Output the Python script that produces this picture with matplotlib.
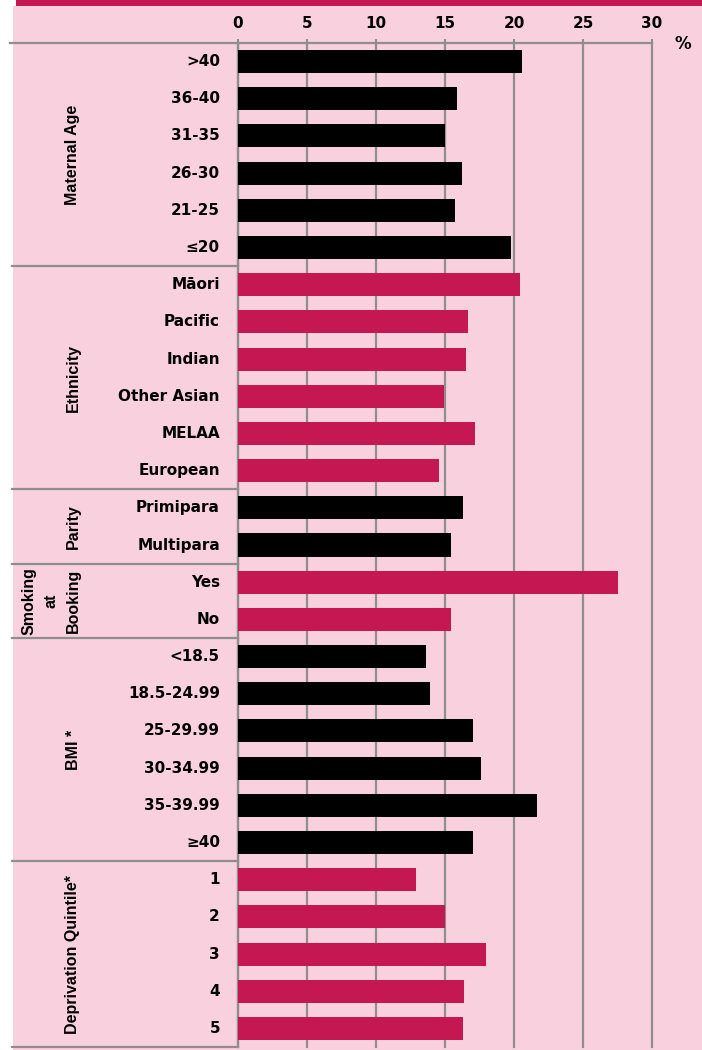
import numpy as np
import matplotlib
matplotlib.use('Agg')
import matplotlib.pyplot as plt
import matplotlib.transforms as mtransforms
from matplotlib.lines import Line2D
from matplotlib.patches import Rectangle

# data (% by subgroup)
groups = ['Maternal Age', 'Ethnicity', 'Parity', 'Smoking\nat\nBooking',
          'BMI *', 'Deprivation Quintile*']
group_colors = ['black', 'pink', 'black', 'pink', 'black', 'pink']
maternal_age = ['>40', '36-40', '31-35', '26-30', '21-25', '≤20']
maternal_age_vals = [20.6, 15.9, 15.0, 16.2, 15.7, 19.8]
ethnicity = ['Māori', 'Pacific', 'Indian', 'Other Asian', 'MELAA', 'European']
ethnicity_vals = [20.4, 16.7, 16.5, 14.9, 17.2, 14.6]
parity = ['Primipara', 'Multipara']
parity_vals = [16.3, 15.4]
smoking = ['Yes', 'No']
smoking_vals = [27.5, 15.4]
bmi = ['<18.5', '18.5-24.99', '25-29.99', '30-34.99', '35-39.99', '≥40']
bmi_vals = [13.6, 13.9, 17.0, 17.6, 21.7, 17.0]
deprivation = ['1', '2', '3', '4', '5']
deprivation_vals = [12.9, 15.0, 18.0, 16.4, 16.3]
xticks = [0, 5, 10, 15, 20, 25, 30]

cats = [maternal_age, ethnicity, parity, smoking, bmi, deprivation]
vals = [maternal_age_vals, ethnicity_vals, parity_vals, smoking_vals,
        bmi_vals, deprivation_vals]

BG = '#f9d1de'
PINK = '#c51852'
GRID = '#8e8e8e'
W, H = 702, 1050

fig = plt.figure(figsize=(W / 100, H / 100), dpi=100)
fig.patch.set_facecolor('white')
# pink panel and top banner
fig.patches.append(Rectangle((13 / W, 0), 1, 1 - 6 / H, transform=fig.transFigure,
                             facecolor=BG, edgecolor='none', zorder=-10))
fig.patches.append(Rectangle((16 / W, 1 - 6 / H), 1, 6 / H, transform=fig.transFigure,
                             facecolor=PINK, edgecolor='none', zorder=-10))

ax = fig.add_axes([238 / W, 3 / H, (652 - 238) / W, (1047 - 43) / H])
ax.set_facecolor('none')

labels, values, colors, starts = [], [], [], []
for g, c, v, col in zip(groups, cats, vals, group_colors):
    starts.append(len(labels))
    labels += c
    values += v
    colors += [PINK if col == 'pink' else 'black'] * len(c)
n = len(labels)
y = np.arange(n)

ax.barh(y, values, height=0.62, color=colors, zorder=3)
ax.set_xlim(0, 30)
ax.set_ylim(n - 0.5, -0.5)
ax.set_xticks(xticks)
ax.xaxis.tick_top()
ax.tick_params(axis='x', length=3, width=1.5, color=GRID, pad=6, labelsize=11)
for t in ax.get_xticklabels():
    t.set_fontweight('bold')
    t.set_family('DejaVu Sans')
ax.set_yticks([])
ax.grid(axis='x', color=GRID, linewidth=1.6, zorder=1)
for gl in ax.get_xgridlines():
    gl.set_clip_on(False)
for s in ['right', 'bottom']:
    ax.spines[s].set_visible(False)
ax.spines['top'].set_color(GRID)
ax.spines['top'].set_linewidth(1.6)
ax.spines['left'].set_color(GRID)
ax.spines['left'].set_linewidth(1.6)

ax.text(1.075, 0.999, '%', transform=ax.transAxes, fontsize=12, fontweight='bold',
        family='DejaVu Sans', ha='center', va='center')

trans = mtransforms.blended_transform_factory(fig.transFigure, ax.transData)
for i, lab in enumerate(labels):
    ax.text(220 / W, i, lab, transform=trans, ha='right', va='center',
            fontsize=11, fontweight='bold', family='DejaVu Sans', clip_on=False)

# group labels and separators
bounds = starts + [n]
for k, g in enumerate(groups):
    mid = (bounds[k] + bounds[k + 1] - 1) / 2
    xg = 51 / W if '\n' in g else 73 / W
    ax.text(xg, mid, g, transform=trans, rotation=90, ha='center', va='center',
            fontsize=11.5, fontweight='bold', family='Liberation Sans',
            multialignment='center', linespacing=1.6, clip_on=False)
for b in bounds[1:-1]:
    ax.add_line(Line2D([12 / W, 238 / W], [b - 0.5, b - 0.5], transform=trans,
                       color=GRID, linewidth=1.6, clip_on=False))
ax.add_line(Line2D([12 / W, 238 / W], [n - 0.5, n - 0.5], transform=trans,
                   color=GRID, linewidth=1.6, clip_on=False))
ax.add_line(Line2D([10 / W, 238 / W], [-0.5, -0.5], transform=trans,
                   color=GRID, linewidth=1.6, clip_on=False))

fig.savefig('out.png', dpi=100, facecolor=fig.get_facecolor())
